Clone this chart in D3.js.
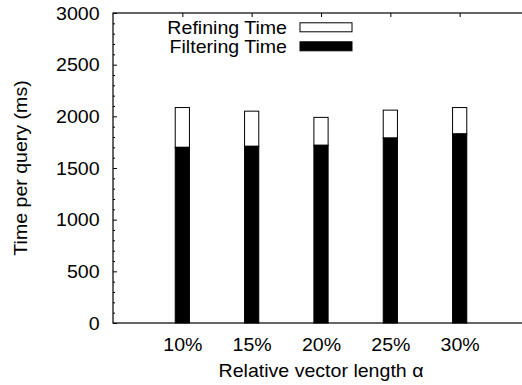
<!DOCTYPE html>
<html>
<head>
<meta charset="utf-8">
<script src="https://cdn.jsdelivr.net/npm/d3@7"></script>
<style>
  html, body { margin: 0; padding: 0; background: #fff; }
  svg { display: block; }
  text { font-family: "Liberation Sans", Arial, Helvetica, sans-serif; fill: #000; }
</style>
</head>
<body>
<svg id="chart" width="522" height="385"></svg>
<script>
// ---- data ----
const categories = ["10%", "15%", "20%", "25%", "30%"];
const filteringTime = [1700, 1710, 1720, 1790, 1830];
const refiningTime = [385, 340, 270, 270, 255];
const yTicks = [0, 500, 1000, 1500, 2000, 2500, 3000];
const seriesNames = ["Refining Time", "Filtering Time"];

// ---- layout ----
const mLeft = 113, mTop = 13, mBottom = 323, mRight = 529;
const fontSize = 18.3;
const sx = 1.07; // horizontal stretch of the original lettering

const svg = d3.select("#chart");

const x = d3.scaleLinear().domain([0, categories.length + 1]).range([mLeft, mRight]);
const y = d3.scaleLinear().domain([0, 3000]).range([mBottom, mTop]);
const barW = x(0.205) - x(0);

// bars
const g = svg.append("g");
categories.forEach((c, i) => {
  const cx = x(i + 1);
  const f = filteringTime[i], r = refiningTime[i];
  g.append("rect")
    .attr("x", cx - barW / 2).attr("width", barW)
    .attr("y", y(f + r)).attr("height", y(f) - y(f + r))
    .attr("fill", "#fff").attr("stroke", "#000").attr("stroke-width", 1);
  g.append("rect")
    .attr("x", cx - barW / 2).attr("width", barW)
    .attr("y", y(f)).attr("height", y(0) - y(f))
    .attr("fill", "#000").attr("stroke", "#000").attr("stroke-width", 1);
});

// frame
svg.append("rect")
  .attr("x", mLeft).attr("y", mTop)
  .attr("width", mRight - mLeft).attr("height", mBottom - mTop)
  .attr("fill", "none").attr("stroke", "#000").attr("stroke-width", 1.2);

// y axis: major ticks (inward), labels outside
const yAxis = d3.axisLeft(y).tickValues(yTicks).tickSize(-4).tickPadding(12.5)
  .tickFormat(d3.format("d"));
const ya = svg.append("g").attr("transform", `translate(${mLeft},0)`).call(yAxis);
ya.select(".domain").remove();
ya.selectAll("line").attr("stroke", "#000");
ya.selectAll("text").style("font-size", fontSize + "px").attr("dy", "0.34em")
  .attr("transform", `scale(${sx},1)`);

// minor y ticks
const minor = d3.range(0, 3001, 100).filter(v => v % 500 !== 0);
const ym = svg.append("g").attr("transform", `translate(${mLeft},0)`)
  .call(d3.axisLeft(y).tickValues(minor).tickSize(-2).tickFormat(""));
ym.select(".domain").remove();
ym.selectAll("line").attr("stroke", "#000");

// x axis bottom (labels), ticks inward
const xTickVals = categories.map((c, i) => i + 1);
const xAxis = d3.axisBottom(x).tickValues(xTickVals).tickSize(-4).tickPadding(15)
  .tickFormat((d, i) => categories[i]);
const xa = svg.append("g").attr("transform", `translate(0,${mBottom})`).call(xAxis);
xa.select(".domain").remove();
xa.selectAll("line").attr("stroke", "#000");
xa.selectAll("text").style("font-size", fontSize + "px").attr("dy", "0.71em")
  .attr("transform", `scale(${sx},1)`);

// top mirror ticks
const xt = svg.append("g").attr("transform", `translate(0,${mTop})`)
  .call(d3.axisTop(x).tickValues(xTickVals).tickSize(-4).tickFormat(""));
xt.select(".domain").remove();
xt.selectAll("line").attr("stroke", "#000");

// axis titles
svg.append("text")
  .attr("transform", `translate(${(mLeft + mRight) / 2},377) scale(${sx},1)`)
  .attr("text-anchor", "middle").style("font-size", fontSize + "px")
  .text("Relative vector length α");

svg.append("text")
  .attr("transform", `translate(27,${(mTop + mBottom) / 2}) rotate(-90) scale(${sx},1)`)
  .attr("text-anchor", "middle").style("font-size", fontSize + "px")
  .text("Time per query (ms)");

// legend
const legend = svg.append("g");
const rowY = [27.3, 46.3];
const fills = ["#fff", "#000"];
seriesNames.forEach((name, i) => {
  legend.append("text")
    .attr("transform", `translate(287,${rowY[i]}) scale(${sx},1)`)
    .attr("dy", "0.35em")
    .attr("text-anchor", "end").style("font-size", fontSize + "px")
    .text(name);
  legend.append("rect")
    .attr("x", 300).attr("y", rowY[i] - 4.5)
    .attr("width", 52).attr("height", 9)
    .attr("fill", fills[i]).attr("stroke", "#000").attr("stroke-width", 1);
});
</script>
</body>
</html>
